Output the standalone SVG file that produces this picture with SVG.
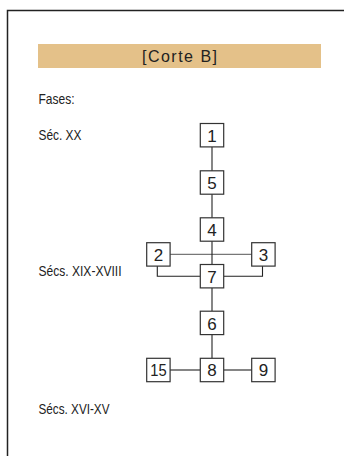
<svg xmlns="http://www.w3.org/2000/svg" width="344" height="456" viewBox="0 0 344 456">
<style>
.frame{fill:none;stroke:#222;stroke-width:1.5}
.box{fill:#fff;stroke:#333;stroke-width:1.2}
.ln{fill:none;stroke:#222;stroke-width:1.1}
.lng{fill:none;stroke:#777;stroke-width:1.3}
.lbl{font-family:"Liberation Sans Narrow","Liberation Sans",Arial,sans-serif;font-size:15px;fill:#222}
.num{font-family:"Liberation Sans Narrow","Liberation Sans",Arial,sans-serif;font-size:17px;fill:#222;text-anchor:middle}
.title{font-family:"Liberation Sans",Arial,sans-serif;font-size:16px;fill:#222;text-anchor:middle}
</style>
<rect width="344" height="456" fill="#fff"/>
<path class="frame" d="M7.5,456 V10.5 H344"/>
<g id="header">
<rect x="38" y="44" width="283" height="24" fill="#E4C189"/>
<text class="title" x="179.5" y="61.5" textLength="75" lengthAdjust="spacing">[Corte B]</text>
</g>
<g id="phases">
<text class="lbl" x="38.5" y="104" textLength="36" lengthAdjust="spacingAndGlyphs">Fases:</text>
<text class="lbl" x="38.5" y="139.5" textLength="43" lengthAdjust="spacingAndGlyphs">Séc. XX</text>
<text class="lbl" x="38.5" y="276" textLength="83" lengthAdjust="spacingAndGlyphs">Sécs. XIX-XVIII</text>
<text class="lbl" x="38.5" y="413.5" textLength="71" lengthAdjust="spacingAndGlyphs">Sécs. XVI-XV</text>
</g>
<g id="connectors">
<line class="lng" x1="170" y1="254.3" x2="252" y2="254.3"/>
<line class="ln" x1="212" y1="147" x2="212" y2="171"/>
<line class="ln" x1="212" y1="194" x2="212" y2="218"/>
<line class="ln" x1="212" y1="241" x2="212" y2="264.5"/>
<line class="ln" x1="212" y1="288" x2="212" y2="311"/>
<line class="ln" x1="212" y1="334.5" x2="212" y2="358.5"/>
<path class="ln" d="M157.3,266 V276.3 H200"/>
<path class="ln" d="M224,276.3 H262.5 V266"/>
<line class="ln" x1="170" y1="370" x2="200" y2="370"/>
<line class="ln" x1="224" y1="370" x2="252" y2="370"/>
</g>
<g id="n1"><rect class="box" x="200.3" y="123.5" width="23.4" height="23.4"/><text class="num" x="212" y="141.8">1</text></g>
<g id="n5"><rect class="box" x="200.3" y="170.8" width="23.4" height="23.4"/><text class="num" x="212" y="189.1">5</text></g>
<g id="n4"><rect class="box" x="200.3" y="217.8" width="23.4" height="23.4"/><text class="num" x="212" y="236.1">4</text></g>
<g id="n2"><rect class="box" x="146.7" y="242.7" width="23.4" height="23.4"/><text class="num" x="158.4" y="261">2</text></g>
<g id="n3"><rect class="box" x="251.7" y="242.7" width="23.4" height="23.4"/><text class="num" x="263.4" y="261">3</text></g>
<g id="n7"><rect class="box" x="200.3" y="264.5" width="23.4" height="23.4"/><text class="num" x="212" y="282.8">7</text></g>
<g id="n6"><rect class="box" x="200.3" y="311.2" width="23.4" height="23.4"/><text class="num" x="212" y="329.5">6</text></g>
<g id="n8"><rect class="box" x="200.3" y="358.3" width="23.4" height="23.4"/><text class="num" x="212" y="376.3">8</text></g>
<g id="n15"><rect class="box" x="146.7" y="358.3" width="23.4" height="23.4"/><text class="num" x="158.4" y="376.3" textLength="16.4" lengthAdjust="spacingAndGlyphs">15</text></g>
<g id="n9"><rect class="box" x="251.7" y="358.3" width="23.4" height="23.4"/><text class="num" x="263.4" y="376.3">9</text></g>
</svg>
